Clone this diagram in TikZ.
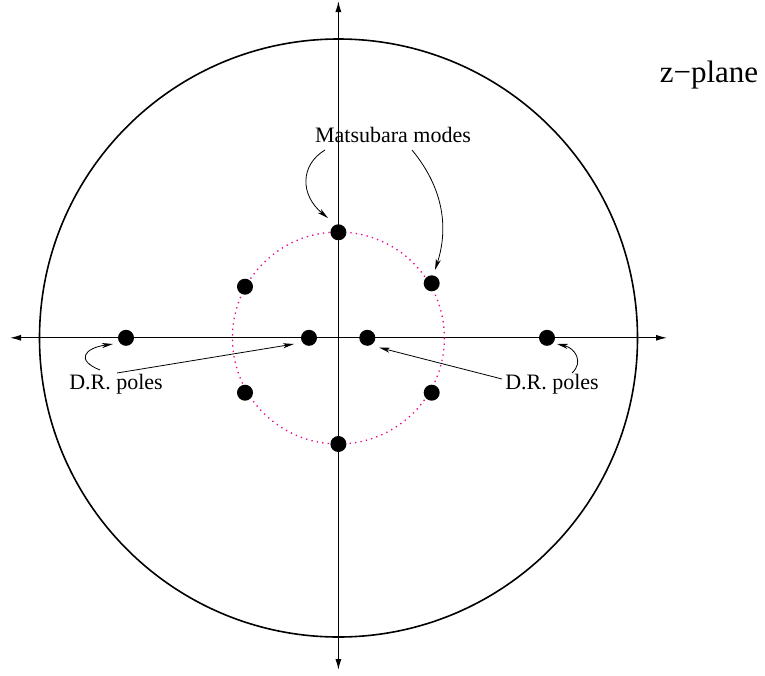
\documentclass[tikz,border=0pt]{standalone}
\usepackage{fontspec}
\setmainfont{Liberation Serif}
\usetikzlibrary{arrows.meta}
\begin{document}
\begin{tikzpicture}[x=1pt,y=-1pt,
  pole/.style={circle,fill=black,inner sep=0pt,minimum size=16pt},
  axis/.style={line width=1.2pt,-{Latex[length=11pt,width=6pt]}},
  conn/.style={line width=0.8pt,-{Stealth[length=11pt,width=5pt,inset=3pt]}},
  lbl/.style={inner sep=0pt,font=\fontsize{22}{24}\selectfont},
  mdot/.style={magenta,line width=1.3pt,dash pattern=on 1.3pt off 4.2pt}]
\useasboundingbox (0,0) rectangle (765,675);
% big circle
\draw[line width=1.6pt] (338.5,338) circle[radius=299];
% axes
\coordinate (O) at (338.4,337.8);
\coordinate (xl) at (10,337.8);
\coordinate (xr) at (667,337.8);
\coordinate (yt) at (338.4,1);
\coordinate (yb) at (338.4,670);
\draw[axis] (O) -- (xl);
\draw[axis] (O) -- (xr);
\draw[axis] (O) -- (yt);
\draw[axis] (O) -- (yb);
% dotted circle
\draw[mdot] (338.4,338) circle[radius=106];
% poles
\node[pole] (p90) at (338.4,232.3) {};
\node[pole] (p270) at (338.4,444) {};
\node[pole] (p30) at (431.7,283.3) {};
\node[pole] (p150) at (245,286.7) {};
\node[pole] (p210) at (245,392.7) {};
\node[pole] (p330) at (431.7,392.7) {};
\node[pole] (pil) at (309,337.8) {};
\node[pole] (pir) at (367.3,337.8) {};
\node[pole] (pol) at (126,337.8) {};
\node[pole] (por) at (547,337.8) {};
% labels
\node[lbl,font=\fontsize{31}{33}\selectfont] (zp) at (709,75) {z\textminus plane};
\node[lbl] (mm) at (393,135) {Matsubara modes};
\node[lbl] (drl) at (116,384) {D.R. poles};
\node[lbl] (drr) at (552,384) {D.R. poles};
% arrow anchor points
\coordinate (m1) at (325,150);
\coordinate (m1e) at (328,218);
\coordinate (m2) at (412,150);
\coordinate (m2e) at (435,270);
\coordinate (l1) at (100,370);
\coordinate (l1e) at (113,344);
\coordinate (l2) at (117,373);
\coordinate (l2e) at (294,344);
\coordinate (r1) at (502,379);
\coordinate (r1e) at (379,347.5);
\coordinate (r2) at (572,373);
\coordinate (r2e) at (557,344);
\draw[conn] (m1) .. controls (300,165) and (300,195) .. (m1e);
\draw[conn] (m2) .. controls (445,190) and (448,230) .. (m2e);
\draw[conn] (l1) .. controls (75,360) and (85,348) .. (l1e);
\draw[conn] (l2) -- (l2e);
\draw[conn] (r1) -- (r1e);
\draw[conn] (r2) .. controls (584,362) and (575,348) .. (r2e);
\end{tikzpicture}
\end{document}
